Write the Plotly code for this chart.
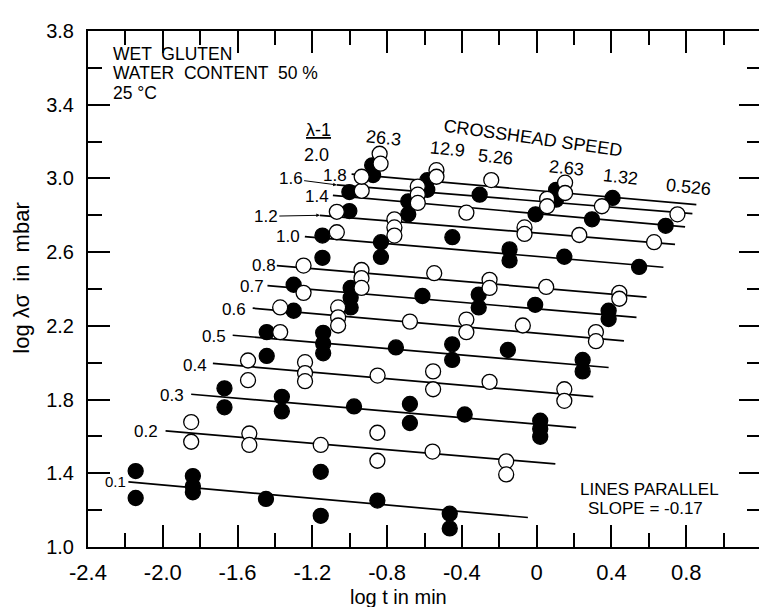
import plotly.graph_objects as go

# ---------------- data ----------------
FILLED = {0.1, 0.3, 0.5, 0.7, 1.0, 1.4, 1.8}   # lambda-1 values drawn with filled circles

# crosshead speed 26.3
lam_263 = [0.1, 0.1, 0.2, 0.2, 0.3, 0.3, 0.4, 0.4, 0.5, 0.5, 0.6, 0.6, 0.7, 0.7,
           0.8, 0.8, 1.0, 1.0, 1.2, 1.2, 1.4, 1.4, 1.6, 1.6, 1.8, 1.8, 2.0, 2.0]
x_263 = [-2.145, -2.145, -1.848, -1.848, -1.670, -1.670, -1.544, -1.544, -1.444, -1.444,
         -1.372, -1.372, -1.300, -1.300, -1.247, -1.247, -1.146, -1.146, -1.069, -1.069,
         -1.002, -1.002, -0.936, -0.936, -0.880, -0.875, -0.840, -0.835]
y_263 = [1.412, 1.266, 1.678, 1.571, 1.861, 1.758, 2.012, 1.905, 2.166, 2.037,
         2.166, 2.300, 2.423, 2.282, 2.379, 2.527, 2.569, 2.690, 2.708, 2.819,
         2.823, 2.926, 2.933, 3.009, 3.071, 3.018, 3.134, 3.080]

# crosshead speed 12.9
lam_129 = [0.1, 0.1, 0.1, 0.2, 0.2, 0.3, 0.3, 0.4, 0.4, 0.4, 0.5, 0.5, 0.5,
           0.6, 0.6, 0.6, 0.7, 0.7, 0.7, 0.8, 0.8, 0.8, 1.0, 1.0, 1.2, 1.2, 1.2,
           1.4, 1.4, 1.6, 1.6, 1.6, 1.8, 1.8, 2.0, 2.0]
x_129 = [-1.839, -1.839, -1.839, -1.537, -1.537, -1.363, -1.363, -1.239, -1.239, -1.239,
         -1.142, -1.142, -1.142, -1.062, -1.062, -1.062, -0.995, -0.995, -0.995,
         -0.937, -0.937, -0.937, -0.833, -0.833, -0.761, -0.761, -0.761,
         -0.687, -0.687, -0.636, -0.636, -0.636, -0.585, -0.585, -0.536, -0.536]
y_129 = [1.385, 1.330, 1.297, 1.616, 1.554, 1.815, 1.736, 2.003, 1.944, 1.900,
         2.162, 2.104, 2.051, 2.300, 2.246, 2.202, 2.406, 2.353, 2.300,
         2.503, 2.459, 2.406, 2.654, 2.574, 2.778, 2.734, 2.690,
         2.876, 2.805, 2.956, 2.912, 2.867, 2.990, 2.938, 3.045, 3.009]

# crosshead speed 5.26
lam_526 = [0.1, 0.2, 0.3, 0.4, 0.5, 0.6, 0.7, 0.8, 1.0, 1.2, 1.4, 1.6]
x_526 = [-1.448, -1.155, -0.977, -0.851, -0.753, -0.678, -0.611, -0.548, -0.451, -0.376, -0.305, -0.243]
y_526 = [1.261, 1.554, 1.763, 1.930, 2.083, 2.223, 2.362, 2.486, 2.681, 2.814, 2.912, 2.991]

# crosshead speed 2.63
lam_263b = [0.1, 0.1, 0.2, 0.2, 0.3, 0.3, 0.4, 0.4, 0.5, 0.5, 0.6, 0.6, 0.7, 0.7,
            0.8, 0.8, 1.0, 1.0, 1.2, 1.2, 1.4, 1.6, 1.6, 1.8, 1.8, 2.0, 2.0]
x_263b = [-1.155, -1.155, -0.852, -0.852, -0.678, -0.678, -0.554, -0.554, -0.452, -0.452,
          -0.376, -0.376, -0.310, -0.310, -0.252, -0.252, -0.145, -0.145, -0.065, -0.065,
          -0.006, 0.056, 0.056, 0.104, 0.104, 0.152, 0.152]
y_263b = [1.408, 1.169, 1.620, 1.468, 1.776, 1.673, 1.953, 1.856, 2.100, 2.015,
          2.234, 2.166, 2.370, 2.300, 2.450, 2.406, 2.615, 2.555, 2.734, 2.699,
          2.805, 2.889, 2.849, 2.938, 2.885, 2.977, 2.921]

# crosshead speed 1.32
lam_132 = [0.1, 0.2, 0.3, 0.4, 0.5, 0.6, 0.7, 0.8, 1.0, 1.2, 1.4, 1.6, 1.8]
x_132 = [-0.852, -0.557, -0.385, -0.252, -0.154, -0.074, -0.008, 0.051, 0.148, 0.228, 0.296, 0.349, 0.406]
y_132 = [1.252, 1.518, 1.719, 1.896, 2.069, 2.202, 2.314, 2.411, 2.575, 2.693, 2.778, 2.849, 2.894]

# crosshead speed 0.526
lam_0526 = [0.1, 0.1, 0.2, 0.2, 0.3, 0.3, 0.3, 0.4, 0.4, 0.5, 0.5, 0.6, 0.6,
            0.7, 0.7, 0.8, 0.8, 1.0, 1.2, 1.4, 1.6]
x_0526 = [-0.465, -0.465, -0.163, -0.163, 0.019, 0.019, 0.019, 0.148, 0.148, 0.246, 0.246,
          0.317, 0.317, 0.385, 0.385, 0.442, 0.442, 0.548, 0.628, 0.690, 0.753]
y_0526 = [1.181, 1.101, 1.465, 1.394, 1.685, 1.640, 1.598, 1.856, 1.793, 2.015, 1.953,
          2.166, 2.117, 2.282, 2.237, 2.379, 2.347, 2.520, 2.654, 2.743, 2.805]

# fitted parallel lines (start / end)
line_lam = [0.1, 0.2, 0.3, 0.4, 0.5, 0.6, 0.7, 0.8, 1.0, 1.2, 1.4, 1.6, 1.8]
line_x0 = [-2.184, -1.985, -1.848, -1.732, -1.626, -1.519, -1.440, -1.390, -1.240, -1.160, -1.090, -1.070, -0.990]
line_y0 = [1.353, 1.630, 1.829, 1.996, 2.149, 2.296, 2.418, 2.527, 2.684, 2.800, 2.908, 2.965, 3.023]
line_x1 = [-0.047, 0.100, 0.211, 0.303, 0.385, 0.467, 0.534, 0.588, 0.678, 0.740, 0.794, 0.833, 0.854]
line_y1 = [1.160, 1.451, 1.648, 1.816, 1.974, 2.118, 2.246, 2.356, 2.518, 2.642, 2.737, 2.809, 2.858]

speed_labels = ["26.3", "12.9", "5.26", "2.63", "1.32", "0.526"]
lam_labels = ["0.1", "0.2", "0.3", "0.4", "0.5", "0.6", "0.7", "0.8", "1.0", "1.2", "1.4", "1.6", "1.8", "2.0"]

x_tickvals = [-2.4, -2.0, -1.6, -1.2, -0.8, -0.4, 0.0, 0.4, 0.8, 1.2]
x_ticktext = ["-2.4", "-2.0", "-1.6", "-1.2", "-0.8", "-0.4", "0", "0.4", "0.8", "1.2"]
y_tickvals = [1.0, 1.4, 1.8, 2.2, 2.6, 3.0, 3.4, 3.8]
y_ticktext = ["1.0", "1.4", "1.8", "2.2", "2.6", "3.0", "3.4", "3.8"]

# ---------------- figure ----------------
FONT = "Liberation Sans"
fig = go.Figure()

for lam, xa, xb, ya, yb in zip(line_lam, line_x0, line_x1, line_y0, line_y1):
    fig.add_trace(go.Scatter(x=[xa, xb], y=[ya, yb], mode="lines",
                             line=dict(color="black", width=1.7),
                             hoverinfo="skip", showlegend=False))

groups = [(lam_263, x_263, y_263), (lam_129, x_129, y_129), (lam_526, x_526, y_526),
          (lam_263b, x_263b, y_263b), (lam_132, x_132, y_132), (lam_0526, x_0526, y_0526)]
for lams, xs, ys in groups:
    for filled in (True, False):
        px = [x for l, x in zip(lams, xs) if (l in FILLED) == filled]
        py = [y for l, y in zip(lams, ys) if (l in FILLED) == filled]
        fig.add_trace(go.Scatter(
            x=px, y=py, mode="markers", showlegend=False,
            marker=dict(symbol="circle", size=15,
                        color="black" if filled else "white",
                        line=dict(color="black", width=1.3))))

ann = []
def txt(x, y, s, size=17, angle=0, xanchor="center", **kw):
    ann.append(dict(x=x, y=y, xref="x", yref="y", text=s, showarrow=False,
                    font=dict(family=FONT, size=size, color="black"),
                    textangle=angle, xanchor=xanchor, yanchor="middle", **kw))

# top-left description
txt(-2.275, 3.676, "WET  GLUTEN", size=17.5, xanchor="left")
txt(-2.275, 3.570, "WATER  CONTENT  50 %", size=17.5, xanchor="left")
txt(-2.275, 3.464, "25 °C", size=17.5, xanchor="left")

# lambda-1 header
txt(-1.167, 3.262, "<u>λ-1</u>", size=18)

# lambda labels at line starts
lam_label_pos = {"0.1": (-2.252, 1.358, 15), "0.2": (-2.092, 1.625, 17), "0.3": (-1.949, 1.82, 17),
                 "0.4": (-1.825, 1.985, 17), "0.5": (-1.724, 2.14, 17), "0.6": (-1.62, 2.29, 17),
                 "0.7": (-1.523, 2.416, 17), "0.8": (-1.46, 2.525, 17), "1.0": (-1.331, 2.685, 17),
                 "1.4": (-1.176, 2.903, 17), "1.8": (-1.08, 3.018, 17), "2.0": (-1.176, 3.129, 18)}
for lab in lam_labels:
    if lab in lam_label_pos:
        x, y, s = lam_label_pos[lab]
        txt(x, y, lab, size=s)

# labels with arrows
ann.append(dict(x=-1.07, y=2.965, xref="x", yref="y", text="1.6", showarrow=True,
                ax=-46, ay=-6, arrowhead=2, arrowsize=0.7, arrowwidth=1, arrowcolor="black",
                font=dict(family=FONT, size=17, color="black")))
ann.append(dict(x=-1.16, y=2.80, xref="x", yref="y", text="1.2", showarrow=True,
                ax=-54, ay=1, arrowhead=2, arrowsize=0.7, arrowwidth=1, arrowcolor="black",
                font=dict(family=FONT, size=17, color="black")))

# crosshead speed labels
speed_pos = [(-0.82, 3.218), (-0.478, 3.16), (-0.221, 3.116), (0.157, 3.058), (0.451, 3.009), (0.811, 2.956)]
for lab, (x, y) in zip(speed_labels, speed_pos):
    txt(x, y, lab, size=18, angle=6)
txt(-0.019, 3.222, "CROSSHEAD SPEED", size=18, angle=8)

# lines parallel note
txt(0.22, 1.310, "LINES PARALLEL", size=17, xanchor="left")
txt(0.264, 1.208, "SLOPE = -0.17", size=17, xanchor="left")

# axis titles
ann.append(dict(x=0.461, y=0, xref="paper", yref="paper", text="log t in min", showarrow=False,
                yanchor="middle", yshift=-50, font=dict(family=FONT, size=20, color="black")))
ann.append(dict(x=0, y=0.52, xref="paper", yref="paper", text="log λσ  in  mbar", showarrow=False,
                xanchor="center", xshift=-66, textangle=-90,
                font=dict(family=FONT, size=22, color="black")))

axis_common = dict(showgrid=False, zeroline=False, showline=True, linecolor="black", linewidth=2,
                   mirror="allticks", ticks="inside", ticklen=22, tickwidth=1.5, tickcolor="black")

fig.update_layout(
    width=767, height=607,
    margin=dict(l=80, r=12, t=13, b=68),
    paper_bgcolor="white", plot_bgcolor="white",
    annotations=ann,
    xaxis=dict(range=[-2.4, 1.2], tickvals=x_tickvals, ticktext=x_ticktext,
               tickfont=dict(family=FONT, size=22, color="black"), ticklabelstandoff=5,
               minor=dict(tickvals=[-2.2, -1.8, -1.4, -1.0, -0.6, -0.2, 0.2, 0.6, 1.0],
                          ticks="inside", ticklen=14, tickwidth=1.5, tickcolor="black"),
               **axis_common),
    yaxis=dict(range=[1.0, 3.8], tickvals=y_tickvals, ticktext=y_ticktext,
               tickfont=dict(family=FONT, size=20, color="black"), ticklabelstandoff=8,
               minor=dict(tickvals=[1.2, 1.6, 2.0, 2.4, 2.8, 3.2, 3.6],
                          ticks="inside", ticklen=14, tickwidth=1.5, tickcolor="black"),
               **axis_common),
)

fig.write_html("out.html")
